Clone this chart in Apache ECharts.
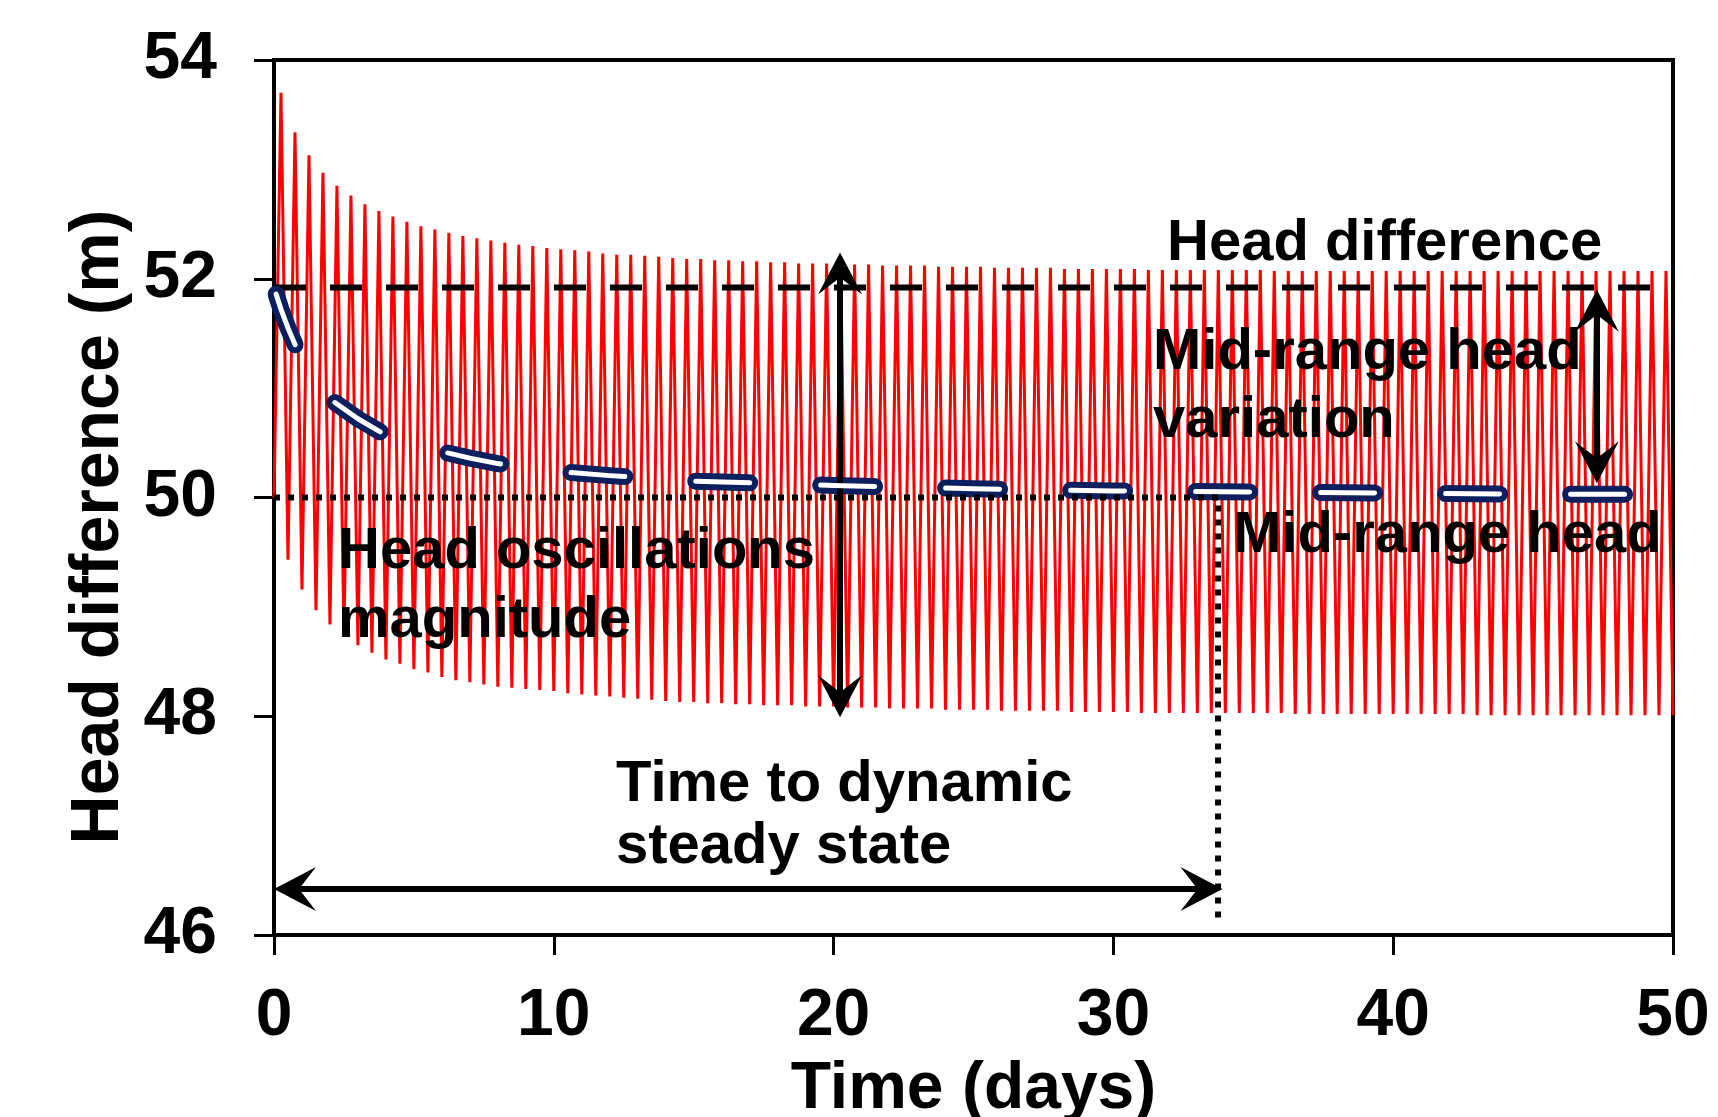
<!DOCTYPE html>
<html>
<head>
<meta charset="utf-8">
<script src="https://cdn.jsdelivr.net/npm/echarts@6/dist/echarts.min.js"></script>
<style>
  html, body { margin: 0; padding: 0; background: #fff; }
  #chart { width: 1718px; height: 1117px; }
</style>
</head>
<body>
<div id="chart"></div>
<script>
// ---- data ----
const halfCycle = 0.5;       // days between troughs (peaks sit half-way)
const startHead = 50.0;      // head at t = 0

// peak of each cycle (t = 0.25, 0.75, ...)
const peaks = [
  53.70, 53.34, 53.13, 52.97, 52.85, 52.76, 52.68, 52.62, 52.57, 52.52,
  52.48, 52.45, 52.42, 52.39, 52.37, 52.35, 52.33, 52.31, 52.30, 52.28,
  52.27, 52.26, 52.25, 52.23, 52.22, 52.22, 52.21, 52.20, 52.19, 52.18,
  52.18, 52.17, 52.17, 52.16, 52.16, 52.15, 52.15, 52.14, 52.14, 52.14,
  52.13, 52.13, 52.13, 52.12, 52.12, 52.12, 52.12, 52.11, 52.11, 52.11,
  52.11, 52.10, 52.10, 52.10, 52.10, 52.10, 52.09, 52.09, 52.09, 52.09,
  52.09, 52.09, 52.08, 52.08, 52.08, 52.08, 52.08, 52.08, 52.08, 52.08,
  52.08, 52.07, 52.07, 52.07, 52.07, 52.07, 52.07, 52.07, 52.07, 52.07,
  52.07, 52.07, 52.07, 52.07, 52.07, 52.07, 52.07, 52.07, 52.07, 52.07,
  52.07, 52.07, 52.07, 52.07, 52.07, 52.07, 52.07, 52.07, 52.07, 52.07
];

// trough of each cycle (t = 0.5, 1.0, ...)
const troughs = [
  49.43, 49.16, 48.97, 48.84, 48.73, 48.65, 48.58, 48.52, 48.48, 48.43,
  48.40, 48.36, 48.33, 48.31, 48.29, 48.27, 48.26, 48.25, 48.24, 48.23,
  48.21, 48.20, 48.19, 48.18, 48.17, 48.16, 48.15, 48.14, 48.13, 48.13,
  48.12, 48.12, 48.11, 48.11, 48.10, 48.10, 48.10, 48.09, 48.09, 48.09,
  48.08, 48.08, 48.08, 48.07, 48.07, 48.07, 48.07, 48.06, 48.06, 48.06,
  48.06, 48.05, 48.05, 48.05, 48.05, 48.05, 48.04, 48.04, 48.04, 48.04,
  48.04, 48.03, 48.03, 48.03, 48.03, 48.03, 48.03, 48.03, 48.03, 48.03,
  48.03, 48.03, 48.02, 48.02, 48.02, 48.02, 48.02, 48.02, 48.02, 48.02,
  48.02, 48.02, 48.02, 48.02, 48.02, 48.01, 48.01, 48.01, 48.01, 48.01,
  48.01, 48.01, 48.01, 48.01, 48.01, 48.01, 48.01, 48.01, 48.01, 48.01
];

// mid-range head (blue capsules)
const midTimes  = [0, 0.25, 0.5, 0.75, 1, 1.5, 2, 3, 4, 5, 6, 7, 8, 10, 12, 15, 20, 25, 30, 35, 40, 45, 50];
const midValues = [51.92, 51.72, 51.55, 51.40, 51.26, 51.05, 50.90, 50.72, 50.57, 50.48, 50.42, 50.36, 50.31,
                   50.24, 50.20, 50.15, 50.11, 50.08, 50.06, 50.05, 50.04, 50.03, 50.03];

const headDifference = 51.92;
const midRangeHead = 50.0;
const steadyTime = 33.74;
const steadyLineBottom = 46.12;

// annotation arrows: [x1, y1, x2, y2] tip to tip
const arrowOscillation = [20.23, 52.24, 20.23, 47.99];
const arrowMidVariation = [47.28, 51.90, 47.28, 50.13];
const arrowSteady = [0, 46.42, 33.9, 46.42];

// ---- build ----
const headData = [[0, startHead]];
for (let k = 0; k < peaks.length; k++) {
  headData.push([k * halfCycle + halfCycle / 2, peaks[k]]);
  headData.push([(k + 1) * halfCycle, troughs[k]]);
}
const midData = midTimes.map((t, i) => [t, midValues[i]]);

const FONT = "'Liberation Sans', Arial, sans-serif";
const gridBox = {left: 274, right: 45, top: 60, bottom: 182};
const plotW = 1718 - gridBox.left - gridBox.right;
const plotH = 1117 - gridBox.top - gridBox.bottom;
const pxPerDay = plotW / 50;
const pxPerM = plotH / 8;
const headLen = 42, headWid = 44;
const arrowPath = 'path://M22,0 L44,42 L22,25 L0,42 Z';

// symbol sits centred on the end point, so pull ends in by half a head
function arrowLine(a) {
  const dx = a[2] - a[0], dy = a[3] - a[1];
  const lenPx = Math.hypot(dx * pxPerDay, dy * pxPerM);
  const ux = dx * pxPerDay / lenPx, uy = dy * pxPerM / lenPx;
  const s = headLen / 2;
  return [
    {coord: [a[0] + ux * s / pxPerDay, a[1] + uy * s / pxPerM]},
    {coord: [a[2] - ux * s / pxPerDay, a[3] - uy * s / pxPerM]}
  ];
}

function textTop(baseline, fs, lh) {
  return baseline - 0.3465 * fs - lh / 2;
}

const chart = echarts.init(document.getElementById('chart'));

const option = {
  backgroundColor: '#fff',
  animation: false,
  grid: {
    left: gridBox.left, right: gridBox.right, top: gridBox.top, bottom: gridBox.bottom,
    outerBoundsMode: 'none', containLabel: false,
    show: true, borderColor: '#000', borderWidth: 4, backgroundColor: 'transparent'
  },
  xAxis: {
    type: 'value', min: 0, max: 50, interval: 10,
    name: 'Time (days)', nameLocation: 'middle', nameGap: 122,
    nameTextStyle: {fontFamily: FONT, fontWeight: 'bold', fontSize: 66, color: '#000'},
    axisLine: {show: true, onZero: false, lineStyle: {color: '#000', width: 4}},
    axisTick: {show: true, inside: false, length: 20, lineStyle: {color: '#000', width: 3}},
    axisLabel: {margin: 49, fontFamily: FONT, fontWeight: 'bold', fontSize: 66, color: '#000'},
    splitLine: {show: false}
  },
  yAxis: {
    type: 'value', min: 46, max: 54, interval: 2,
    axisLine: {show: true, onZero: false, lineStyle: {color: '#000', width: 4}},
    axisTick: {show: true, inside: false, length: 20, lineStyle: {color: '#000', width: 3}},
    axisLabel: {margin: 57, fontFamily: FONT, fontWeight: 'bold', fontSize: 66, color: '#000'},
    splitLine: {show: false}
  },
  graphic: [
    {type: 'text', rotation: Math.PI / 2, x: 99, y: 527,
     style: {text: 'Head difference (m)', font: 'bold 68px ' + FONT, fill: '#000', align: 'center', verticalAlign: 'middle'}},
    {type: 'text', x: 1167, y: textTop(264, 58, 58), z: 100,
     style: {text: 'Head difference', font: 'bold 58px ' + FONT, fill: '#000', lineHeight: 58, verticalAlign: 'top'}},
    {type: 'text', x: 1153, y: textTop(373, 58, 68), z: 100,
     style: {text: 'Mid-range head\nvariation', font: 'bold 58px ' + FONT, fill: '#000', lineHeight: 68, verticalAlign: 'top'}},
    {type: 'text', x: 1233, y: textTop(556, 58, 58), z: 100,
     style: {text: 'Mid-range head', font: 'bold 58px ' + FONT, fill: '#000', lineHeight: 58, verticalAlign: 'top'}},
    {type: 'text', x: 338, y: textTop(572, 58, 69), z: 100,
     style: {text: 'Head oscillations\nmagnitude', font: 'bold 58px ' + FONT, fill: '#000', lineHeight: 69, verticalAlign: 'top'}},
    {type: 'text', x: 616, y: textTop(805, 58, 62), z: 100,
     style: {text: 'Time to dynamic\nsteady state', font: 'bold 58px ' + FONT, fill: '#000', lineHeight: 62, verticalAlign: 'top'}}
  ],
  series: [
    {
      name: 'Head', type: 'line', data: headData, showSymbol: false, z: 2,
      lineStyle: {color: '#ff0000', width: 3, join: 'bevel'}
    },
    {
      name: 'Head difference', type: 'line', showSymbol: false, z: 3,
      data: [[0, headDifference], [50, headDifference]],
      lineStyle: {color: '#000', width: 6, type: [32, 24]}
    },
    {
      name: 'Mid-range outline', type: 'line', data: midData, showSymbol: false, z: 4,
      lineStyle: {color: '#0a1f5e', width: 17, type: [54, 71], dashOffset: -7, cap: 'round', join: 'round'}
    },
    {
      name: 'Mid-range inner', type: 'line', data: midData, showSymbol: false, z: 5,
      lineStyle: {color: '#ffffff', width: 5, type: [54, 71], dashOffset: -7, cap: 'round', join: 'round'}
    },
    {
      name: 'Mid-range head', type: 'line', showSymbol: false, z: 6,
      data: [[0, midRangeHead], [steadyTime, midRangeHead], [steadyTime, steadyLineBottom]],
      lineStyle: {color: '#000', width: 6, type: [6, 8]},
      markLine: {
        silent: true, animation: false,
        symbol: [arrowPath, arrowPath], symbolSize: [headWid, headLen],
        label: {show: false},
        lineStyle: {color: '#000', width: 6, type: 'solid'},
        emphasis: {disabled: true},
        data: [arrowLine(arrowOscillation), arrowLine(arrowMidVariation), arrowLine(arrowSteady)]
      }
    }
  ]
};

chart.setOption(option);
</script>
</body>
</html>
